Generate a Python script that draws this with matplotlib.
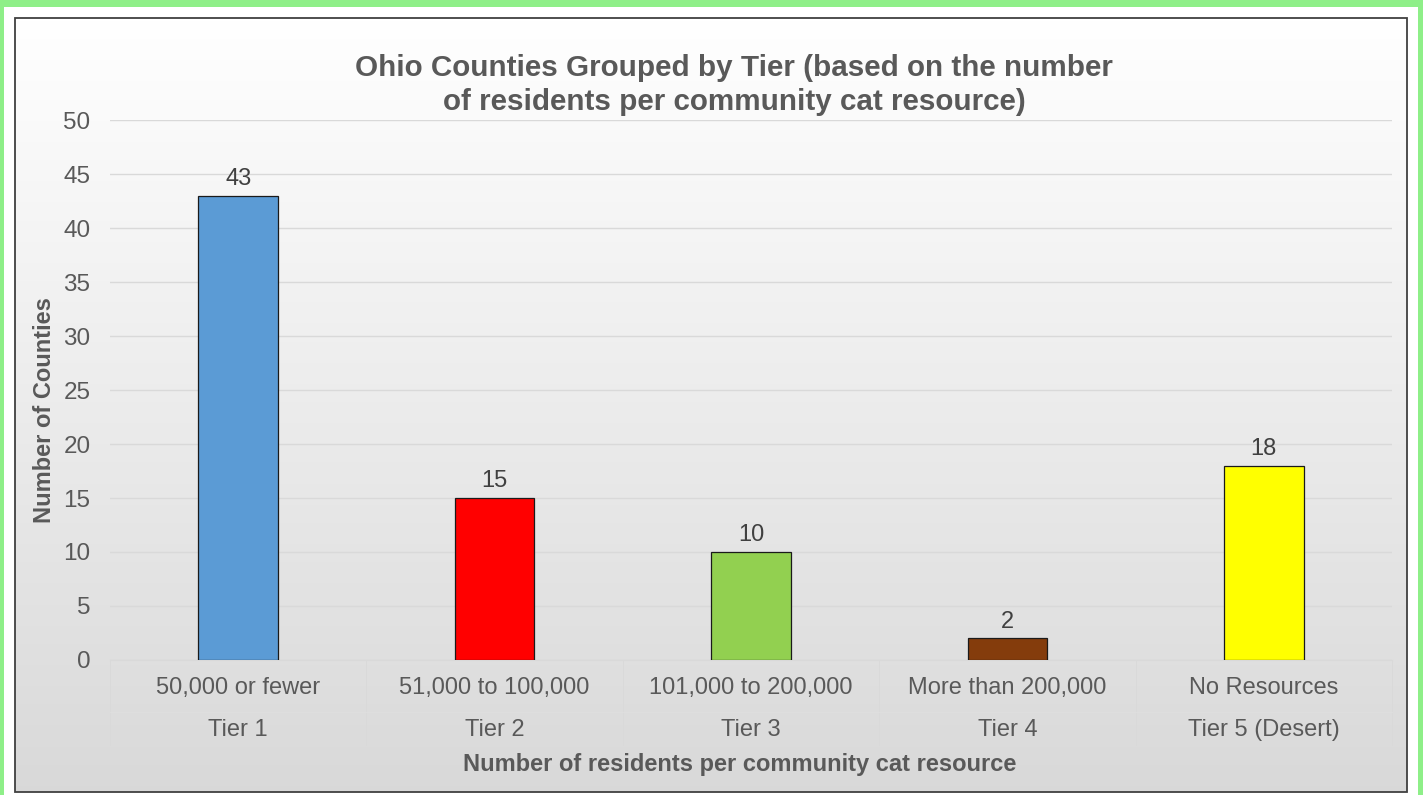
import numpy as np
import matplotlib.pyplot as plt
from matplotlib.patches import Rectangle
from matplotlib.transforms import blended_transform_factory

plt.rcParams['font.family'] = ['Liberation Sans', 'DejaVu Sans']

# datos
rangos = ['50,000 or fewer', '51,000 to 100,000', '101,000 to 200,000',
          'More than 200,000', 'No Resources']
niveles = ['Tier 1', 'Tier 2', 'Tier 3', 'Tier 4', 'Tier 5 (Desert)']
condados = [43, 15, 10, 2, 18]
colores = ['#5B9BD5', '#FF0000', '#92D050', '#843C0C', '#FFFF00']

W, H = 1423, 795
fig = plt.figure(figsize=(W / 100, H / 100), dpi=100)
fig.patch.set_facecolor('#8EEF88')

# panel blanco y fondo degradado
fondo = fig.add_axes([0, 0, 1, 1], zorder=-2)
fondo.set_xlim(0, W)
fondo.set_ylim(H, 0)
fondo.axis('off')
fondo.add_patch(Rectangle((4, 7), W - 9, H - 7, facecolor='white', edgecolor='none'))
grad = np.linspace(1.0, 0.85, 256).reshape(-1, 1)
fondo.imshow(np.dstack([grad, grad, grad]), extent=(15, 1407, 792, 18),
             aspect='auto', zorder=1)
fondo.add_patch(Rectangle((15, 18), 1392, 774, facecolor='none',
                          edgecolor='#404040', linewidth=1.3, zorder=2))

# lineas divisorias de las categorias
for xb in np.arange(110, 1393, 256.4):
    fondo.plot([xb, xb], [660, 745], color='#d9d9d9', linewidth=0.7, zorder=3)
fondo.plot([110, 1392], [712, 712], color='#e0e0e0', linewidth=0.5, zorder=3)

ax = fig.add_axes([110 / W, 1 - 660 / H, 1282 / W, 540 / H])
ax.patch.set_alpha(0)
x = np.arange(len(condados))
barras = ax.bar(x, condados, width=0.31, color=colores, edgecolor='#1a1a1a',
                linewidth=0.9, zorder=3)
for b, v in zip(barras, condados):
    ax.annotate(str(v), (b.get_x() + b.get_width() / 2, v), xytext=(0, 4),
                textcoords='offset points', ha='center', va='bottom',
                fontsize=17, color='#404040')

ax.set_xlim(-0.5, 4.5)
ax.set_ylim(0, 50)
ax.set_yticks(range(0, 51, 5))
ax.yaxis.grid(True, color='#d9d9d9', linewidth=1)
ax.set_axisbelow(True)
ax.tick_params(axis='y', length=0, labelsize=17.5, labelcolor='#595959', pad=14)
ax.set_xticks([])
for lado in ['top', 'right', 'left']:
    ax.spines[lado].set_visible(False)
ax.spines['bottom'].set_color('#d9d9d9')

trans = blended_transform_factory(ax.transData, fig.transFigure)
for i in range(len(rangos)):
    ax.text(i, 1 - 688 / H, rangos[i], transform=trans, ha='center', va='center',
            fontsize=17, color='#595959')
    ax.text(i, 1 - 730 / H, niveles[i], transform=trans, ha='center', va='center',
            fontsize=17, color='#595959')

fig.text(740 / W, 1 - 765 / H, 'Number of residents per community cat resource',
         ha='center', va='center', fontsize=17, fontweight='bold', color='#595959')
fig.text(45 / W, 1 - 410 / H, 'Number of Counties', rotation=90, ha='center',
         va='center', fontsize=17, fontweight='bold', color='#595959')
fig.text(734 / W, 1 - 85 / H,
         'Ohio Counties Grouped by Tier (based on the number\nof residents per community cat resource)',
         ha='center', va='center', fontsize=21.3, fontweight='bold', color='#595959',
         linespacing=1.3)

fig.savefig('out.png', dpi=100, facecolor=fig.get_facecolor())
